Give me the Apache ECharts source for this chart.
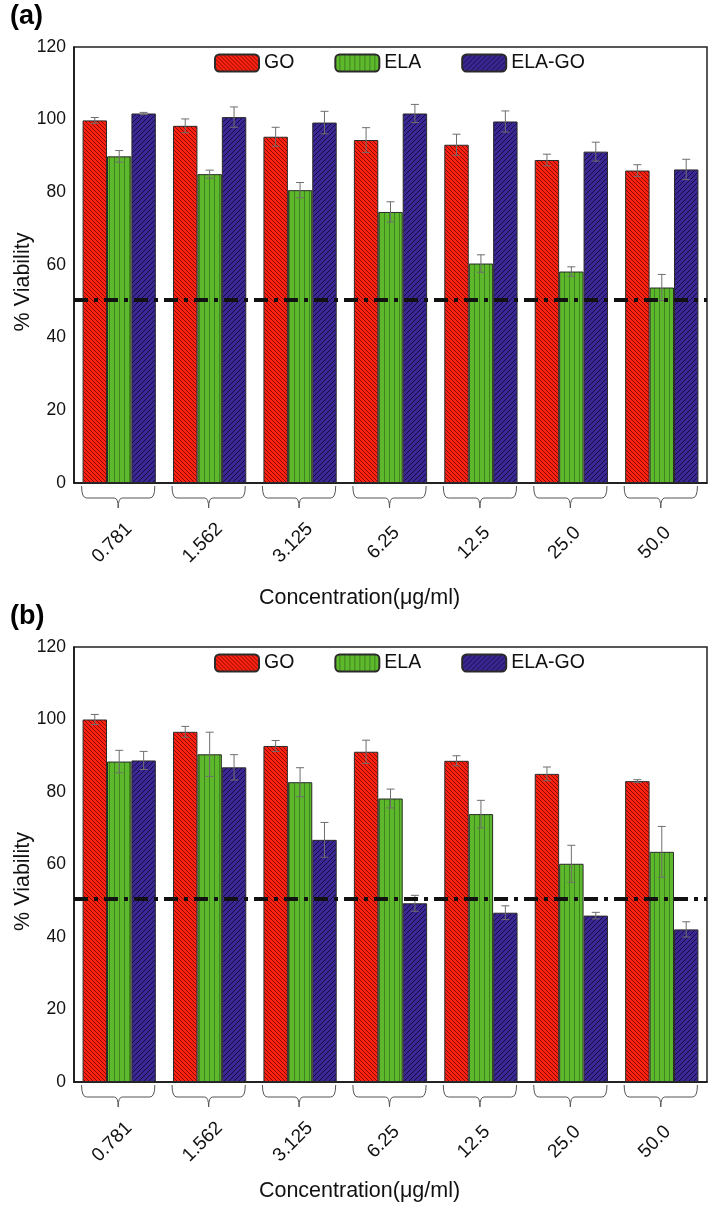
<!DOCTYPE html>
<html><head><meta charset="utf-8">
<script src="https://cdn.jsdelivr.net/npm/echarts@6/dist/echarts.min.js"></script>
<style>html,body{margin:0;padding:0;background:#fff}#c{width:709px;height:1205px}</style>
</head><body><div id="c"></div>
<script>
// ---- data ----
const categories = ['0.781', '1.562', '3.125', '6.25', '12.5', '25.0', '50.0'];
const seriesNames = ['GO', 'ELA', 'ELA-GO'];
const yTicks = [0, 20, 40, 60, 80, 100, 120];
const threshold = 50.5;

// panel (a)
const goA      = [99.8, 98.3, 95.3, 94.4, 93.1, 88.9, 86.0];
const goAErr   = [0.8, 1.9, 2.6, 3.4, 2.9, 1.6, 1.6];
const elaA     = [89.9, 85.0, 80.6, 74.6, 60.4, 58.2, 53.8];
const elaAErr  = [1.6, 1.1, 2.1, 2.8, 2.4, 1.3, 3.6];
const elagoA   = [101.7, 100.7, 99.2, 101.7, 99.5, 91.2, 86.3];
const elagoAErr= [0.3, 2.8, 3.1, 2.5, 2.9, 2.6, 2.8];

// panel (b)
const goB      = [100.0, 96.6, 92.7, 91.1, 88.6, 85.0, 83.0];
const goBErr   = [1.4, 1.5, 1.5, 3.2, 1.4, 1.9, 0.4];
const elaB     = [88.4, 90.4, 82.7, 78.2, 73.9, 60.2, 63.5];
const elaBErr  = [3.1, 6.1, 4.0, 2.6, 3.8, 5.1, 7.0];
const elagoB   = [88.7, 86.8, 66.8, 49.3, 46.7, 45.9, 42.1];
const elagoBErr= [2.5, 3.5, 4.8, 2.2, 1.9, 0.9, 2.1];

const panelLabels = ['(a)', '(b)'];
const xTitle = 'Concentration(μg/ml)';
const yTitle = '% Viability';

// ---- styling ----
const FONT = '"Liberation Sans", Arial, Helvetica, sans-serif';
const CAT_GAP = 0.19;

function makePattern(bg, line, size, kind, lw) {
  const c = document.createElement('canvas');
  c.width = size; c.height = size;
  const g = c.getContext('2d');
  g.fillStyle = bg; g.fillRect(0, 0, size, size);
  g.strokeStyle = line; g.lineWidth = lw;
  g.beginPath();
  if (kind === 'back') {
    for (let k = -size; k <= size; k += size) { g.moveTo(k, 0); g.lineTo(k + size, size); }
  } else if (kind === 'fwd') {
    for (let k = -size; k <= size; k += size) { g.moveTo(k, size); g.lineTo(k + size, 0); }
  } else {
    g.moveTo(size - 0.5, 0); g.lineTo(size - 0.5, size);
  }
  g.stroke();
  return { image: c, repeat: 'repeat' };
}

const patterns = [
  makePattern('#ff2210', '#7a0800', 4, 'back', 0.9),
  makePattern('#5eb82c', '#3f8320', 5, 'vert', 1),
  makePattern('#3b2894', '#170d45', 5, 'fwd', 1)
];

const grids = [
  { left: 74, right: 2, top: 47, height: 436 },
  { left: 74, right: 2, top: 647, height: 435 }
];

const panels = [
  { vals: [goA, elaA, elagoA], errs: [goAErr, elaAErr, elagoAErr], nameGap: 104 },
  { vals: [goB, elaB, elagoB], errs: [goBErr, elaBErr, elagoBErr], nameGap: 98 }
];

function barSeries(name, data, gi, k) {
  return {
    type: 'bar', name: name, data: data, xAxisIndex: gi, yAxisIndex: gi,
    barGap: '0%', barCategoryGap: (CAT_GAP * 100) + '%', z: 2,
    itemStyle: { color: patterns[k], borderColor: '#2a2a2a', borderWidth: 1 },
    emphasis: { disabled: true }
  };
}

function errSeries(vals, errs, gi, k, withLine) {
  const s = {
    type: 'custom', xAxisIndex: gi, yAxisIndex: gi, z: 4, silent: true,
    data: vals.map((v, i) => [i, v, errs[i]]),
    encode: { x: 0, y: 1 },
    renderItem: function (params, api) {
      const i = api.value(0), v = api.value(1), e = api.value(2);
      const band = api.size([1, 0])[0];
      const bw = band * (1 - CAT_GAP) / 3;
      const x = api.coord([i, v])[0] + (k - 1) * bw;
      const yt = api.coord([i, v + e])[1];
      const yb = api.coord([i, v - e])[1];
      const cap = 4;
      const st = { stroke: '#6e6e6e', lineWidth: 1 };
      return { type: 'group', children: [
        { type: 'line', shape: { x1: x, y1: yt, x2: x, y2: yb }, style: st },
        { type: 'line', shape: { x1: x - cap, y1: yt, x2: x + cap, y2: yt }, style: st },
        { type: 'line', shape: { x1: x - cap, y1: yb, x2: x + cap, y2: yb }, style: st }
      ]};
    }
  };
  if (withLine) {
    s.markLine = {
      silent: true, symbol: 'none', label: { show: false }, z: 5,
      lineStyle: { color: '#111', width: 4, type: [14, 6, 4, 6], cap: 'butt' },
      emphasis: { disabled: true },
      data: [{ yAxis: threshold }]
    };
  }
  return s;
}

function braceSeries(gi) {
  return {
    type: 'custom', xAxisIndex: gi, yAxisIndex: gi, z: 3, silent: true,
    data: categories.map((c, i) => [i, 0]),
    encode: { x: 0, y: 1 },
    renderItem: function (params, api) {
      const i = api.value(0);
      const p = api.coord([i, 0]);
      const band = api.size([1, 0])[0];
      const half = band * (1 - CAT_GAP) / 2;
      const xl = p[0] - half - 1, xr = p[0] + half - 1, xc = p[0] - 1, y0 = p[1];
      const path = 'M' + xl + ',' + (y0 + 3) +
        ' Q' + xl + ',' + (y0 + 15) + ' ' + (xl + 5) + ',' + (y0 + 15) +
        ' L' + (xc - 4) + ',' + (y0 + 15) +
        ' Q' + xc + ',' + (y0 + 15) + ' ' + xc + ',' + (y0 + 25) +
        ' M' + xc + ',' + (y0 + 25) +
        ' Q' + xc + ',' + (y0 + 15) + ' ' + (xc + 4) + ',' + (y0 + 15) +
        ' L' + (xr - 5) + ',' + (y0 + 15) +
        ' Q' + xr + ',' + (y0 + 15) + ' ' + xr + ',' + (y0 + 3);
      return { type: 'group', children: [
        { type: 'path', shape: { pathData: path }, style: { fill: null, stroke: '#555', lineWidth: 1 } },
        { type: 'text', x: p[0] - 7, y: y0 + 60, rotation: Math.PI / 4,
          style: { text: categories[i], fontSize: 19, fontFamily: FONT, fill: '#111',
                   align: 'center', verticalAlign: 'middle' } }
      ]};
    }
  };
}

const option = {
  animation: false,
  backgroundColor: '#fff',
  textStyle: { fontFamily: FONT },
  title: panelLabels.map((t, gi) => ({
    text: t, left: 10, top: 3 + gi * 600, padding: 0,
    textStyle: { fontSize: 27, fontWeight: 'bold', color: '#000', fontFamily: FONT }
  })),
  legend: grids.map((g, gi) => ({
    left: 214, top: 53 + gi * 600, padding: 0, itemWidth: 44, itemHeight: 17, itemGap: 40,
    selectedMode: false, data: seriesNames,
    textStyle: { fontSize: 19.5, color: '#111', fontFamily: FONT }
  })),
  grid: grids.map(g => Object.assign({ show: true, borderColor: '#222', borderWidth: 1.5,
    backgroundColor: 'transparent', containLabel: false, outerBoundsMode: 'none' }, g)),
  xAxis: grids.map((g, gi) => ({
    type: 'category', gridIndex: gi, data: categories,
    axisLine: { lineStyle: { color: '#111', width: 1.5 } },
    axisTick: { show: false }, axisLabel: { show: false }, splitLine: { show: false },
    name: xTitle, nameLocation: 'middle', nameGap: panels[gi].nameGap, nameMoveOverlap: false,
    nameTextStyle: { fontSize: 21.5, color: '#111', fontFamily: FONT, padding: [0, 62, 0, 0] }
  })),
  yAxis: grids.map((g, gi) => ({
    type: 'value', gridIndex: gi, min: yTicks[0], max: yTicks[yTicks.length - 1], interval: yTicks[1] - yTicks[0],
    axisLine: { show: true, lineStyle: { color: '#111', width: 1.5 } },
    axisTick: { show: false }, splitLine: { show: false },
    axisLabel: { fontSize: 17.5, color: '#111', fontFamily: FONT, margin: 8 },
    name: yTitle, nameLocation: 'middle', nameGap: 40, nameMoveOverlap: false,
    nameTextStyle: { fontSize: 21.5, color: '#111', fontFamily: FONT, padding: [0, 34, 0, 0] }
  })),
  series: []
};

panels.forEach((p, gi) => {
  seriesNames.forEach((n, k) => option.series.push(barSeries(n, p.vals[k], gi, k)));
  option.series.push(braceSeries(gi));
  seriesNames.forEach((n, k) => option.series.push(errSeries(p.vals[k], p.errs[k], gi, k, k === 2)));
});

const chart = echarts.init(document.getElementById('c'));
chart.setOption(option);
</script>
</body></html>
